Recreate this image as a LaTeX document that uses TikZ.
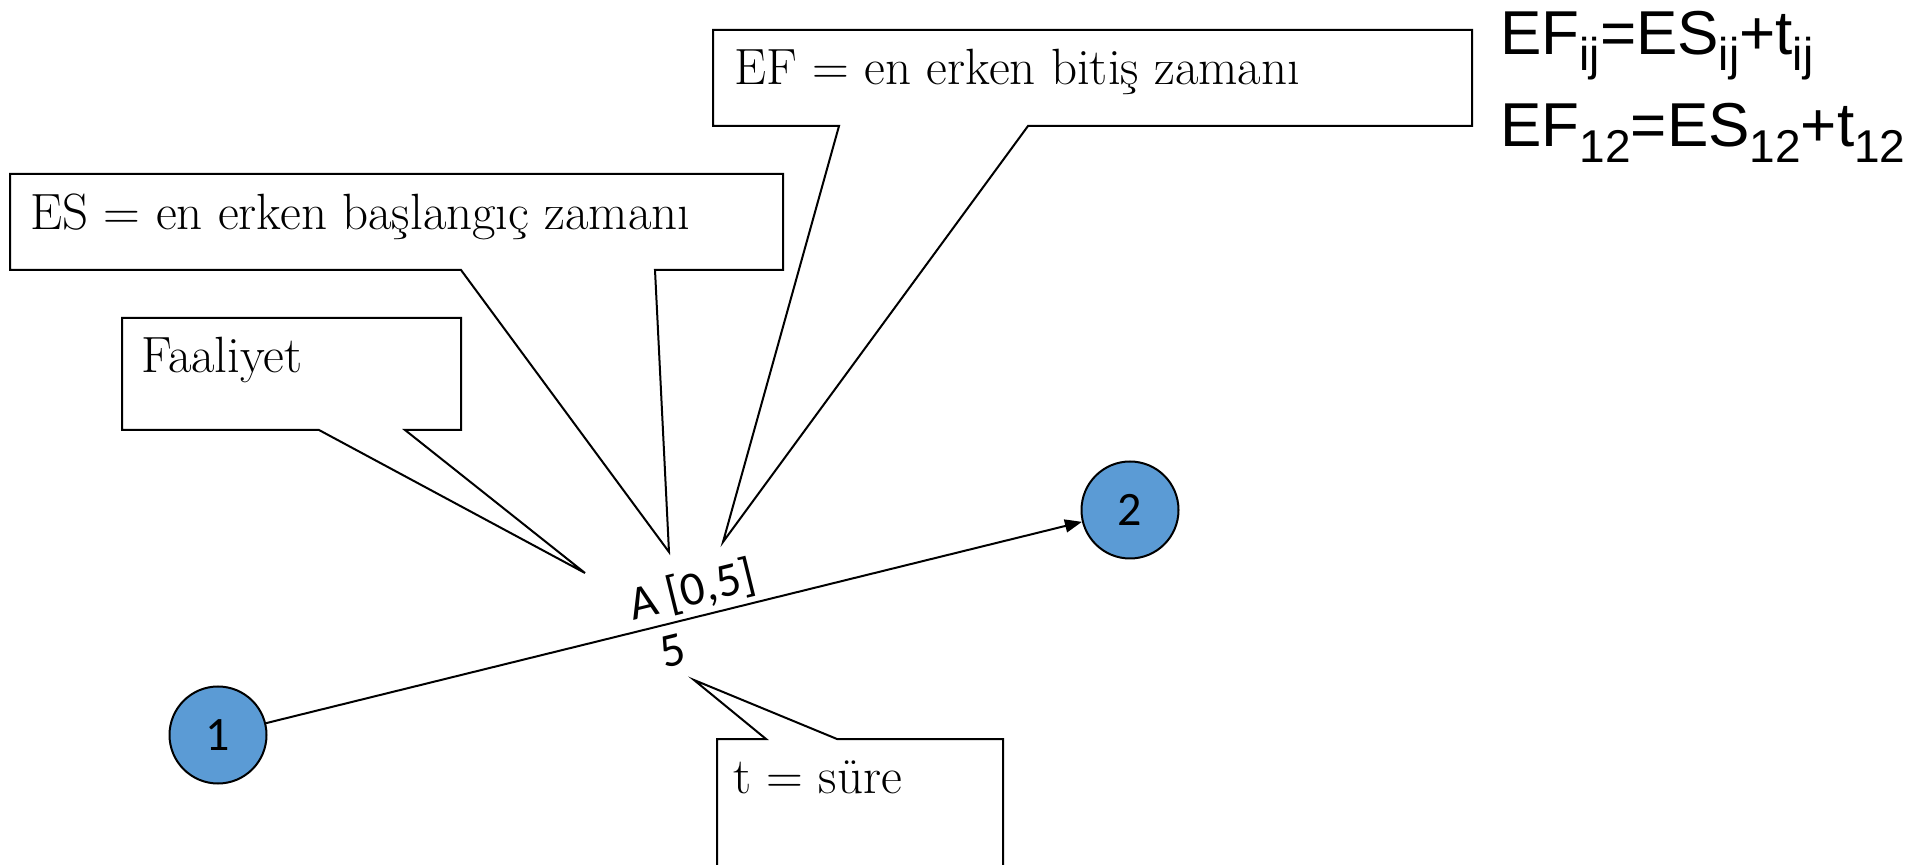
\documentclass[tikz,border=0pt]{standalone}
\usepackage{fontspec}
\usepackage{xcolor}
\usepackage{tikz}
\usetikzlibrary{arrows.meta}

\newfontfamily\labelfont{Carlito}
\newfontfamily\formulafont{Liberation Sans}
\definecolor{nodeblue}{RGB}{91,155,213}

% lowered index in the formulas
\newcommand{\lowidx}[1]{\raisebox{-8pt}{\fontsize{23}{23}\selectfont #1}}

\begin{document}
\begin{tikzpicture}[x=0.5pt, y=-0.5pt,
    event/.style={circle, draw, line width=1pt, fill=nodeblue, minimum size=48.5pt,
        inner sep=0pt, font=\labelfont\fontsize{24}{24}\selectfont},
    notebox/.style={draw, line width=1pt, fill=white, line join=miter},
    note/.style={anchor=base west, inner sep=0pt, font=\fontsize{25.5}{30}\selectfont},
    formula/.style={anchor=base west, inner sep=0pt, font=\formulafont\fontsize{31}{31}\selectfont}]
    \useasboundingbox (0,0) rectangle (1912,865);

    % Callout: activity
    \draw[notebox] (122,318) -- (461,318) -- (461,430) -- (405,430) -- (585,573)
        -- (319,430) -- (122,430) -- cycle;
    \node[note] (faaliyet) at (141,373) {Faaliyet};

    % Callout: earliest start
    \draw[notebox] (10,174) -- (783,174) -- (783,270) -- (655,270) -- (669,552)
        -- (461,270) -- (10,270) -- cycle;
    \node[note] (es) at (30,230) {ES = en erken başlangıç zamanı};

    % Callout: earliest finish
    \draw[notebox] (713,30) -- (1472,30) -- (1472,126) -- (1028,126) -- (723,542)
        -- (839,126) -- (713,126) -- cycle;
    \node[note] (ef) at (734,85) {EF = en erken bitiş zamanı};

    % Callout: duration (runs off the bottom edge)
    \draw[notebox] (717,880) -- (717,739) -- (766,739) -- (694,680) -- (837,739)
        -- (1003,739) -- (1003,880);
    \node[note] (sure) at (733,793) {t = süre};

    % Events and the activity arrow
    \node[event] (n1) at (218,735) {1};
    \node[event] (n2) at (1130,510) {2};
    \draw[-{Triangle[length=8.5pt,width=6.5pt]}, line width=1pt] (n1) -- (n2)
        node[pos=0.53, sloped, above=-1pt, font=\labelfont\fontsize{24}{24}\selectfont] (act) {A [0,5]}
        node[pos=0.49, sloped, below=2pt, font=\labelfont\fontsize{24}{24}\selectfont] (dur) {5};

    % Formulas
    \node[formula] (f1) at (1500,55) {EF\lowidx{ij}=ES\lowidx{ij}+t\lowidx{ij}};
    \node[formula] (f2) at (1500,147) {EF\lowidx{12}=ES\lowidx{12}+t\lowidx{12}};
\end{tikzpicture}
\end{document}
